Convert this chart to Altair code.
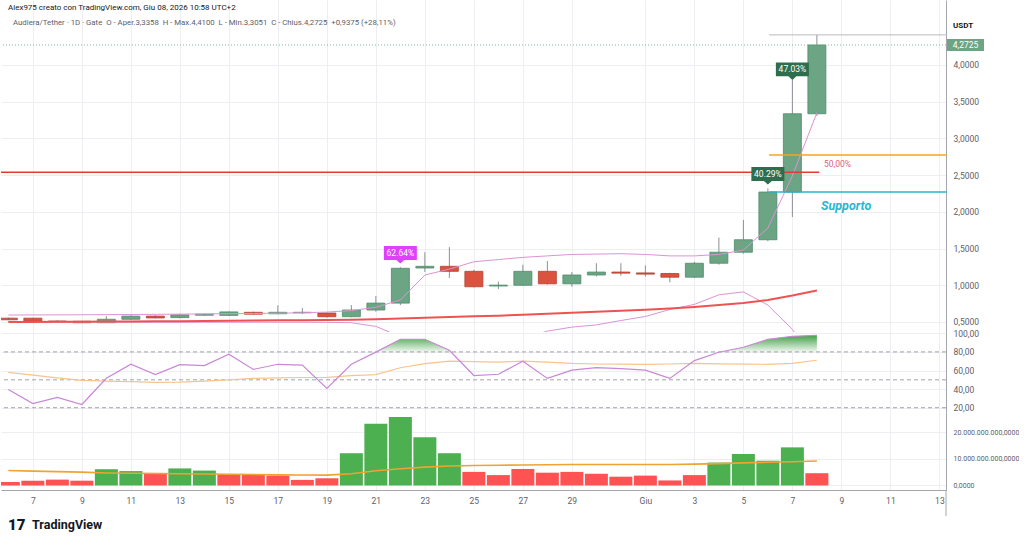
import altair as alt
import pandas as pd
import numpy as np

# ---------------- data ----------------
# day index: 6..31 -> 6..31 May, 32..39 -> 1..8 June (Giu)
day = list(range(6, 40))

open_ = [0.552, 0.552, 0.513, 0.510, 0.490, 0.537, 0.580, 0.560, 0.592, 0.590,
         0.632, 0.612, 0.625, 0.622, 0.572, 0.663, 0.757, 1.235, 1.258, 1.190,
         0.990, 1.000, 1.190, 1.020, 1.140, 1.180, 1.168, 1.160, 1.110, 1.300,
         1.450, 1.620, 2.270, 3.3358]
high_ = [0.560, 0.556, 0.525, 0.515, 0.580, 0.590, 0.590, 0.610, 0.612, 0.645,
         0.640, 0.727, 0.690, 0.630, 0.730, 0.855, 1.245, 1.450, 1.520, 1.210,
         1.050, 1.280, 1.330, 1.180, 1.300, 1.300, 1.270, 1.170, 1.320, 1.650,
         1.890, 2.320, 3.800, 4.410]
low_ = [0.525, 0.505, 0.500, 0.485, 0.487, 0.530, 0.550, 0.550, 0.585, 0.585,
        0.600, 0.605, 0.610, 0.560, 0.565, 0.640, 0.730, 1.180, 1.100, 0.970,
        0.950, 0.990, 1.010, 0.980, 1.120, 1.130, 1.120, 1.040, 1.100, 1.280,
        1.430, 1.600, 1.930, 3.3051]
close_ = [0.530, 0.508, 0.503, 0.490, 0.537, 0.580, 0.555, 0.597, 0.606, 0.637,
          0.606, 0.632, 0.632, 0.572, 0.663, 0.757, 1.231, 1.258, 1.190, 0.980,
          1.002, 1.190, 1.020, 1.140, 1.180, 1.165, 1.152, 1.110, 1.300, 1.450,
          1.620, 2.270, 3.3358, 4.2725]

ema = [0.500, 0.501, 0.502, 0.503, 0.505, 0.507, 0.509, 0.511, 0.514, 0.516,
       0.519, 0.522, 0.525, 0.528, 0.532, 0.538, 0.548, 0.558, 0.568, 0.577,
       0.586, 0.600, 0.612, 0.625, 0.638, 0.652, 0.667, 0.685, 0.705, 0.730,
       0.760, 0.800, 0.860, 0.930]
band_up = [0.595, 0.596, 0.597, 0.598, 0.600, 0.602, 0.604, 0.607, 0.610, 0.613,
           0.616, 0.620, 0.625, 0.635, 0.655, 0.700, 0.800, 1.140, 1.220, 1.320,
           1.350, 1.380, 1.400, 1.420, 1.425, 1.430, 1.420, 1.400, 1.400, 1.420,
           1.480, 1.780, 2.490, 3.350]
band_lo = [0.502, 0.500, 0.499, 0.498, 0.497, 0.497, 0.497, 0.497, 0.497, 0.497,
           0.497, 0.497, 0.497, 0.495, 0.490, 0.440, 0.300, 0.150, 0.100, 0.120,
           0.200, 0.280, 0.375, 0.430, 0.460, 0.520, 0.575, 0.670, 0.740, 0.870,
           0.910, 0.730, 0.400, -0.100]

rsi = [39.6, 24.5, 31.0, 23.5, 51.6, 66.7, 55.7, 66.3, 65.3, 77.5,
       61.2, 66.7, 65.8, 40.8, 66.7, 79.8, 93.6, 93.6, 81.7, 54.6,
       56.0, 70.0, 51.5, 60.4, 63.2, 62.0, 60.4, 51.5, 70.7, 79.6,
       85.0, 93.6, 96.8, 97.9]
rsi_ma = [58, 55, 52, 49.5, 48.5, 48, 47.3, 47.5, 48.5, 50,
          51.5, 52, 52.5, 52.7, 54.4, 55.5, 63.0, 67.5, 70, 69.5,
          69, 70, 69, 67.7, 67, 66.8, 66.7, 67, 67.7, 67.2,
          66.8, 66.7, 67.7, 71]

volume_bn = [1.3, 1.8, 2.2, 1.8, 6.1, 5.4, 4.7, 6.4, 5.6, 4.3,
             4.2, 3.7, 2.1, 2.7, 12.1, 23.2, 25.7, 18.1, 12.1, 5.1,
             3.9, 6.2, 4.8, 5.1, 4.4, 3.3, 3.7, 1.9, 3.9, 8.6,
             11.8, 9.3, 14.3, 4.6]
vol_dir = ["d", "d", "d", "d", "u", "u", "d", "u", "u", "d",
           "d", "d", "d", "d", "u", "u", "u", "u", "u", "d",
           "d", "d", "d", "d", "d", "d", "d", "d", "d", "u",
           "u", "u", "u", "d"]
vol_ma_bn = [5.6, 5.4, 5.2, 5.0, 4.7, 4.6, 4.5, 4.4, 4.3, 4.2,
             4.1, 4.0, 3.95, 3.9, 4.4, 5.5, 6.3, 6.9, 7.3, 7.5,
             7.6, 7.7, 7.8, 7.9, 7.9, 7.9, 7.9, 7.9, 8.0, 8.2,
             8.5, 8.7, 8.9, 9.2]

x_ticks = [7, 9, 11, 13, 15, 17, 19, 21, 23, 25, 27, 29, 32, 34, 36, 38, 40, 42, 44]
price_ticks = [0.5, 1.0, 1.5, 2.0, 2.5, 3.0, 3.5, 4.0]
rsi_ticks = [20, 40, 60, 80, 100]
vol_ticks = [0, 10e9, 20e9]

# annotations
lvl_x0 = [5.7, 37.05, 37.05, 37.05]
lvl_x1 = [39.1, 44.3, 44.3, 44.3]
lvl_p = [2.54, 4.41, 2.775, 2.27]
lvl_col = ["#e53935", "#b8bbc2", "#f5a623", "#2ab5c8"]
lvl_w = [1.5, 1.0, 1.5, 1.5]

tag_d = [22, 37, 38]
tag_p = [1.44, 2.515, 3.94]
tag_t = ["62.64%", "40.29%", "47.03%"]
tag_col = ["#e040fb", "#2e6e4e", "#2e6e4e"]

last_price = 4.2725

NB = "\u00a0"
header_1 = "Alex975 creato con TradingView.com, Giu 08, 2026 10:58 UTC+2"
header_2 = (f"Audiera/Tether · 1D · Gate{NB}{NB}O - Aper.3,3358{NB}{NB}H - Max.4,4100{NB}{NB}"
            f"L - Min.3,3051{NB}{NB}C - Chius.4,2725{NB}{NB}+0,9375 (+28,11%)")

# ---------------- frames ----------------
df = pd.DataFrame({
    "d": day, "o": open_, "h": high_, "l": low_, "c": close_,
    "ema": ema, "bu": band_up, "bl": band_lo,
    "rsi": rsi, "rsima": rsi_ma,
    "v": [v * 1e9 for v in volume_bn], "vd": vol_dir,
    "vma": [v * 1e9 for v in vol_ma_bn],
})
df["dir"] = np.where(df["c"] >= df["o"], "up", "down")

# fill above 80 on RSI (with crossing points)
pts_d, pts_r = [], []
for i in range(len(day)):
    pts_d.append(day[i]); pts_r.append(max(rsi[i], 80))
    if i + 1 < len(day):
        r1, r2 = rsi[i], rsi[i + 1]
        if (r1 - 80) * (r2 - 80) < 0:
            t = (80 - r1) / (r2 - r1)
            pts_d.append(day[i] + t); pts_r.append(80)
fill_df = pd.DataFrame({"d": pts_d, "r": pts_r})

lvl_df = pd.DataFrame({"d": lvl_x0, "x1": lvl_x1, "p": lvl_p, "col": lvl_col, "w": lvl_w})
tag_df = pd.DataFrame({"d": tag_d, "p": tag_p, "t": tag_t, "col": tag_col})

# ---------------- style ----------------
W = 945
FONT = "Roboto"
GRID = "#eceef2"
AXC = "#a3a6ad"
LBL = "#5d606b"
G_FILL, G_STROKE = "#6ca584", "#4e8b69"
R_FILL, R_STROKE = "#d9533f", "#b44030"

xs = alt.Scale(domain=[5.7, 44.27], nice=False, zero=False, padding=0)
x_hidden_axis = alt.Axis(values=x_ticks, grid=True, gridColor=GRID, labels=False,
                         ticks=False, domain=False, title=None)
X = alt.X("d:Q", scale=xs, axis=x_hidden_axis, title=None)

# ---------------- price pane ----------------
ps = alt.Scale(domain=[0.3636, 4.885], nice=False, zero=False, padding=0)
price_axis = alt.Axis(orient="right", values=price_ticks, title=None,
                      labelExpr="replace(format(datum.value, '.4f'), '.', ',')",
                      grid=True, gridColor=GRID, ticks=False, domainColor=AXC,
                      labelPadding=7, labelFontSize=8.5, labelColor=LBL, labelOverlap=False,
                      labelFont=FONT)


def PY(field):
    return alt.Y(field, scale=ps, axis=price_axis, title=None)


base = alt.Chart(df)
wicks = base.mark_rule(color="#8d8f94", strokeWidth=1).encode(x=X, y=PY("l:Q"), y2="h:Q")
bodies = base.mark_bar(size=18, strokeWidth=0.8, clip=True).encode(
    x=X, y=PY("o:Q"), y2="c:Q",
    fill=alt.Fill("dir:N", scale=alt.Scale(domain=["up", "down"], range=[G_FILL, R_FILL]), legend=None),
    stroke=alt.Stroke("dir:N", scale=alt.Scale(domain=["up", "down"], range=[G_STROKE, R_STROKE]), legend=None))
ema_line = base.mark_line(color="#ef5350", strokeWidth=2, clip=True).encode(x=X, y=PY("ema:Q"))
bu_line = base.mark_line(color="#dc93d5", strokeWidth=1, clip=True).encode(x=X, y=PY("bu:Q"))
bl_line = base.mark_line(color="#dc93d5", strokeWidth=1, clip=True).encode(x=X, y=PY("bl:Q"))

levels = alt.Chart(lvl_df).mark_rule().encode(
    x=X, x2="x1:Q", y=PY("p:Q"),
    color=alt.Color("col:N", scale=None), strokeWidth=alt.StrokeWidth("w:Q", scale=None))
last_line = alt.Chart(pd.DataFrame({"p": [last_price]})).mark_rule(
    color="#7fb596", strokeDash=[1, 2], strokeWidth=1).encode(y=PY("p:Q"))

tag_shape = "M-1,-0.42L1,-0.42L1,0.42L0.24,0.42L0,0.64L-0.24,0.42L-1,0.42Z"
tags = alt.Chart(tag_df).mark_point(shape=tag_shape, filled=True, size=1089, opacity=1, strokeWidth=0).encode(
    x=X, y=PY("p:Q"), color=alt.Color("col:N", scale=None))
tag_txt = alt.Chart(tag_df).mark_text(color="white", fontSize=8.5, font=FONT).encode(
    x=X, y=PY("p:Q"), text="t:N")

fifty = alt.Chart(pd.DataFrame({"d": [39.29], "p": [2.65], "t": ["50,00%"]})).mark_text(
    align="left", color="#e0607a", fontSize=8.5, font=FONT).encode(x=X, y=PY("p:Q"), text="t:N")
supp = alt.Chart(pd.DataFrame({"d": [39.17], "p": [2.08], "t": ["Supporto"]})).mark_text(
    align="left", color="#29b6d0", fontSize=12.5, fontStyle="italic", fontWeight="bold", font=FONT).encode(
    x=X, y=PY("p:Q"), text="t:N")

price_tag = alt.Chart(pd.DataFrame({"p": [last_price], "t": ["4,2725"]}))
price_box = price_tag.mark_point(shape="M-1,-0.32L1,-0.32L1,0.32L-1,0.32Z", filled=True, size=1369,
                                 opacity=1, strokeWidth=0, color=G_FILL).encode(
    x=alt.value(964.5), y=PY("p:Q"))
price_txt = price_tag.mark_text(color="white", fontSize=8.5, font=FONT).encode(
    x=alt.value(964.5), y=PY("p:Q"), text="t:N")

hdr = pd.DataFrame({"t": ["x"]})
h1 = alt.Chart(hdr).mark_text(align="left", baseline="middle", fontSize=8, color="#131722", font=FONT,
                              text=header_1).encode(x=alt.value(7), y=alt.value(8))
h2 = alt.Chart(hdr).mark_text(align="left", baseline="middle", fontSize=7.8, color="#5d606b", font=FONT,
                              text=header_2).encode(x=alt.value(12), y=alt.value(23))
usdt = alt.Chart(hdr).mark_text(align="left", baseline="middle", fontSize=8, fontWeight="bold",
                                color="#131722", font=FONT, text="USDT").encode(
    x=alt.value(952), y=alt.value(26))

price = alt.layer(wicks, bodies, bl_line, bu_line, ema_line, levels, last_line,
                  tags, tag_txt, fifty, supp, price_box, price_txt, h1, h2, usdt
                  ).properties(width=W, height=332)

# ---------------- RSI pane ----------------
rs = alt.Scale(domain=[15.4, 101.4], nice=False, zero=False, padding=0)
rsi_axis = alt.Axis(orient="right", values=rsi_ticks, title=None,
                    labelExpr="replace(format(datum.value, '.2f'), '.', ',')",
                    grid=True, gridColor=GRID, ticks=False, domainColor=AXC,
                    labelPadding=7, labelFontSize=8.5, labelColor=LBL, labelOverlap=False,
                    labelFont=FONT)


def RY(field):
    return alt.Y(field, scale=rs, axis=rsi_axis, title=None)


grad = alt.Gradient(gradient="linear",
                    stops=[alt.GradientStop(color="#43a047", offset=0),
                           alt.GradientStop(color="#f1f8f1", offset=1)],
                    x1=1, x2=1, y1=0, y2=1)
rsi_fill = alt.Chart(fill_df).mark_area(fill=grad, clip=True).encode(
    x=X, y=RY("r:Q"), y2=alt.datum(80))
bands = alt.Chart(pd.DataFrame({"b": [80, 50, 20]})).mark_rule(
    color="#a0a3aa", strokeDash=[4, 3], strokeWidth=1).encode(y=RY("b:Q"))
rsi_ma_line = base.mark_line(color="#f8c48c", strokeWidth=1.2, clip=True).encode(x=X, y=RY("rsima:Q"))
rsi_line = base.mark_line(color="#c987d6", strokeWidth=1.2, clip=True).encode(x=X, y=RY("rsi:Q"))
rsi_panel = alt.layer(rsi_fill, bands, rsi_ma_line, rsi_line).properties(width=W, height=80)

# ---------------- volume pane ----------------
vs = alt.Scale(domain=[-1.69e9, 27.56e9], nice=False, zero=False, padding=0)
vol_axis = alt.Axis(orient="right", values=vol_ticks, title=None,
                    labelExpr="datum.value == 0 ? '0,0000' : format(datum.value / 1e9, 'd') + '.000.000.000,0000'",
                    grid=True, gridColor=GRID, ticks=False, domainColor=AXC,
                    labelPadding=7, labelFontSize=7, labelColor=LBL, labelOverlap=False,
                    labelFont=FONT)
x_vol_axis = alt.Axis(values=x_ticks, grid=True, gridColor=GRID, ticks=False,
                      domain=True, domainColor=AXC, labelPadding=6, labelFontSize=8.5,
                      labelColor=LBL, title=None, labelOverlap=False, labelFont=FONT,
                      labelExpr="datum.value == 32 ? 'Giu' : (datum.value > 31 ? datum.value - 31 : datum.value)")
XV = alt.X("d:Q", scale=xs, axis=x_vol_axis, title=None)


def VY(field):
    return alt.Y(field, scale=vs, axis=vol_axis, title=None)


vol_bars = base.mark_bar(size=23, clip=True).encode(
    x=XV, y=VY("v:Q"),
    color=alt.Color("vd:N", scale=alt.Scale(domain=["u", "d"], range=["#4caf50", "#ff5252"]), legend=None))
vol_ma_line = base.mark_line(color="#f0a232", strokeWidth=1.6, clip=True).encode(x=XV, y=VY("vma:Q"))
axis_tail = alt.Chart(hdr).mark_rule(color=AXC, strokeWidth=1).encode(
    x=alt.value(945), y=alt.value(78), y2=alt.value(104))
logo = alt.Chart(hdr).mark_text(align="left", baseline="middle", fontSize=15, fontWeight=900,
                                color="#131722", font=FONT, text="17").encode(
    x=alt.value(7), y=alt.value(113))
logo_txt = alt.Chart(hdr).mark_text(align="left", baseline="middle", fontSize=12.5, fontWeight="bold",
                                    color="#131722", font=FONT, text="TradingView").encode(
    x=alt.value(31), y=alt.value(113))
vol_panel = alt.layer(vol_bars, vol_ma_line, axis_tail, logo, logo_txt).properties(width=W, height=78)

chart = alt.vconcat(price, rsi_panel, vol_panel, spacing=0, bounds="flush").properties(
    padding={"left": 0, "top": 0, "right": 0, "bottom": 0},
    background="white",
).configure(font=FONT).configure_view(stroke=None)

chart.save("out.html", embed_options={"renderer": "svg", "actions": False})
